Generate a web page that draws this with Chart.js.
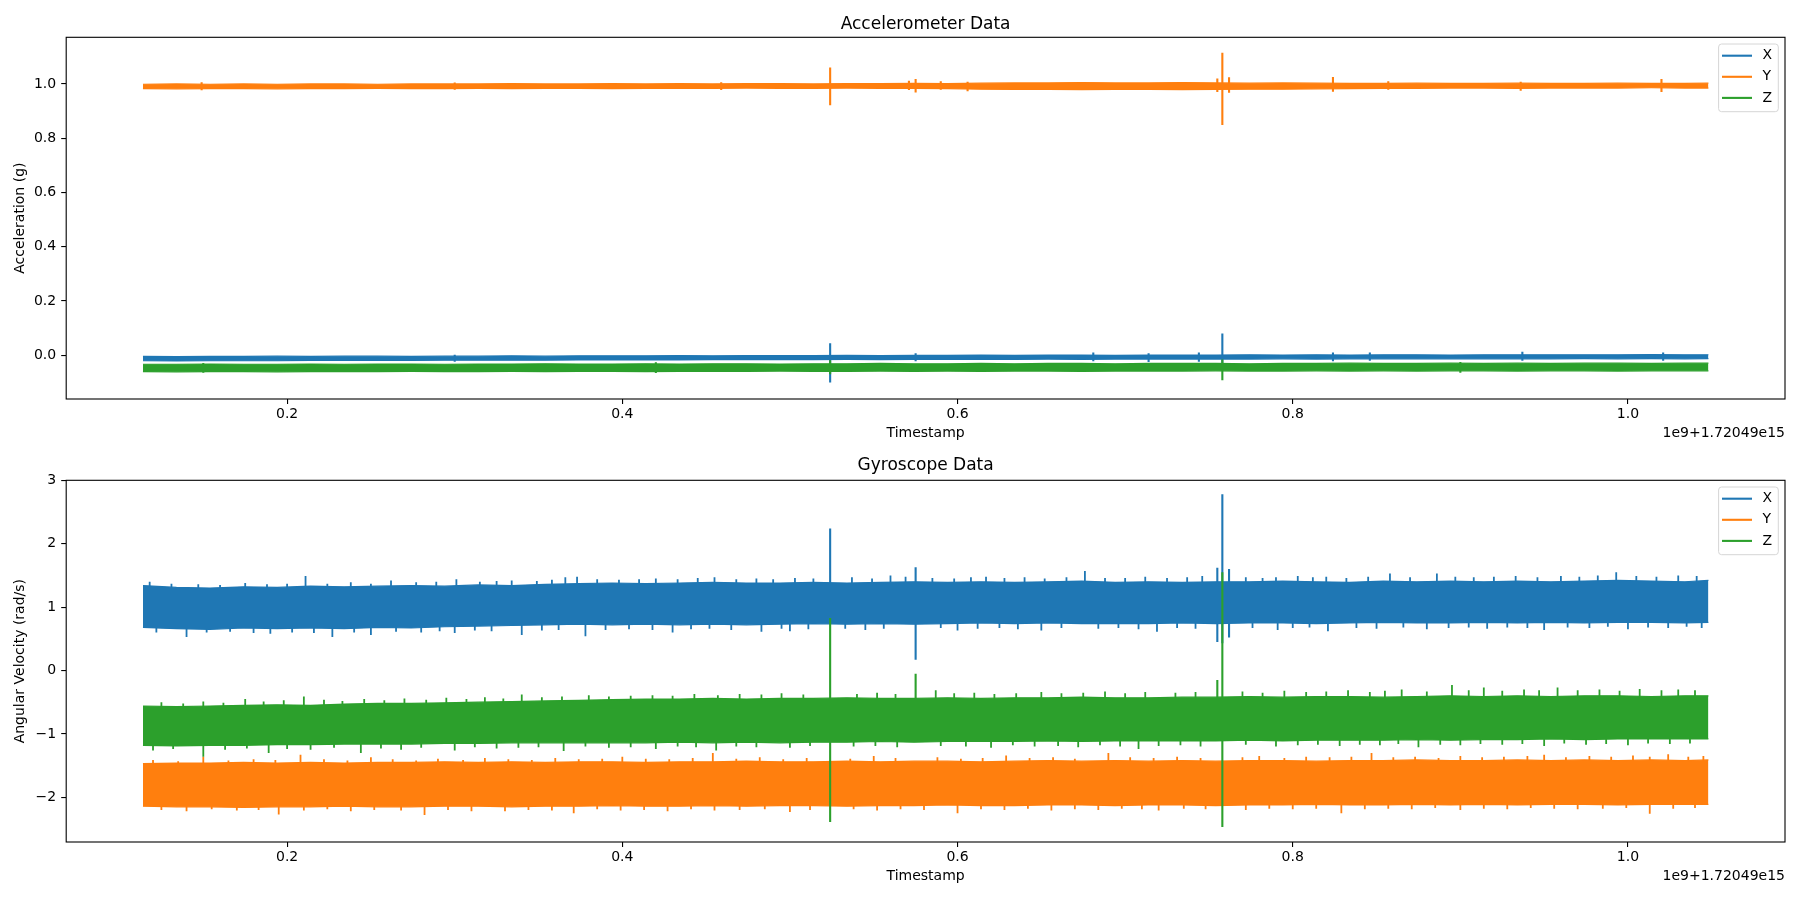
<!DOCTYPE html>
<html>
<head>
<meta charset="utf-8">
<script src="https://cdn.jsdelivr.net/npm/chart.js@4.4.1/dist/chart.umd.min.js"></script>
<style>
html,body{margin:0;padding:0;background:#fff;}
#wrap{position:relative;width:1800px;height:900px;background:#fff;}
.box{position:absolute;left:0;width:1800px;height:450px;}
</style>
</head>
<body>
<div id="wrap">
  <div class="box" style="top:0"><canvas id="c1"></canvas></div>
  <div class="box" style="top:450px"><canvas id="c2"></canvas></div>
</div>
<script>
// ---------------- DATA (timestamps in units of 1e9, offset 1.72049e15) ----------------
const xGrid = [0.114,0.134,0.154,0.174,0.194,0.214,0.234,0.254,0.274,0.294,
               0.314,0.334,0.354,0.374,0.394,0.414,0.434,0.454,0.474,0.494,
               0.514,0.534,0.554,0.574,0.594,0.614,0.634,0.654,0.674,0.694,
               0.714,0.734,0.754,0.774,0.794,0.814,0.834,0.854,0.874,0.894,
               0.914,0.934,0.954,0.974,0.994,1.014,1.034,1.048];

const seriesLabels = ['X','Y','Z'];
const seriesColors = ['#1f77b4','#ff7f0e','#2ca02c'];

const xTicks = [0.2,0.4,0.6,0.8,1.0];
const xTickLabels = ['0.2','0.4','0.6','0.8','1.0'];
const offsetText = '1e9+1.72049e15';

// ===== Accelerometer: band envelopes (upper / lower) =====
const accXUpper = [-0.004,-0.005,-0.004,-0.004,-0.003,-0.004,-0.003,-0.003,-0.004,-0.003,-0.003,-0.002,-0.003,-0.002,-0.002,-0.002,-0.001,-0.002,-0.001,-0.001,-0.001,0.000,-0.001,0.000,0.000,0.001,0.000,0.001,0.001,0.000,0.001,0.001,0.001,0.002,0.001,0.002,0.001,0.002,0.002,0.001,0.002,0.002,0.002,0.002,0.002,0.003,0.002,0.002];
const accXLower = [-0.020,-0.021,-0.020,-0.020,-0.020,-0.019,-0.019,-0.019,-0.019,-0.018,-0.018,-0.018,-0.018,-0.017,-0.017,-0.017,-0.017,-0.016,-0.016,-0.016,-0.016,-0.015,-0.016,-0.015,-0.015,-0.015,-0.015,-0.014,-0.015,-0.014,-0.014,-0.014,-0.014,-0.014,-0.013,-0.014,-0.013,-0.013,-0.013,-0.013,-0.013,-0.013,-0.013,-0.012,-0.013,-0.012,-0.013,-0.012];
const accYUpper = [0.999,1.000,0.999,1.000,0.999,1.000,1.000,0.999,1.000,1.000,1.000,1.001,1.000,1.000,1.001,1.000,1.001,1.000,1.001,1.001,1.000,1.001,1.001,1.002,1.001,1.003,1.004,1.004,1.005,1.004,1.004,1.005,1.004,1.003,1.004,1.003,1.002,1.002,1.003,1.002,1.002,1.003,1.002,1.002,1.003,1.002,1.002,1.003];
const accYLower = [0.983,0.982,0.983,0.983,0.982,0.983,0.983,0.984,0.983,0.983,0.984,0.983,0.984,0.984,0.983,0.984,0.984,0.984,0.985,0.984,0.984,0.985,0.984,0.984,0.983,0.981,0.980,0.980,0.979,0.980,0.980,0.979,0.980,0.981,0.981,0.982,0.983,0.984,0.984,0.985,0.985,0.984,0.985,0.985,0.985,0.986,0.985,0.985];
const accZUpper = [-0.033,-0.033,-0.032,-0.033,-0.033,-0.032,-0.033,-0.032,-0.032,-0.033,-0.032,-0.032,-0.031,-0.032,-0.032,-0.031,-0.032,-0.031,-0.031,-0.032,-0.031,-0.031,-0.030,-0.031,-0.031,-0.030,-0.031,-0.030,-0.030,-0.031,-0.030,-0.030,-0.030,-0.031,-0.030,-0.030,-0.029,-0.030,-0.030,-0.029,-0.030,-0.029,-0.030,-0.029,-0.029,-0.030,-0.029,-0.029];
const accZLower = [-0.060,-0.061,-0.060,-0.060,-0.061,-0.060,-0.060,-0.060,-0.059,-0.060,-0.060,-0.059,-0.060,-0.059,-0.059,-0.060,-0.059,-0.059,-0.059,-0.058,-0.059,-0.059,-0.058,-0.059,-0.058,-0.059,-0.058,-0.058,-0.059,-0.058,-0.058,-0.058,-0.057,-0.058,-0.058,-0.057,-0.058,-0.057,-0.058,-0.057,-0.057,-0.058,-0.057,-0.057,-0.058,-0.057,-0.057,-0.057];

// Accelerometer spikes (timestamp, min, max)
const accXSpikeT  = [0.300,0.524,0.575,0.681,0.714,0.744,0.758,0.824,0.846,0.937,1.021];
const accXSpikeLo = [-0.024,-0.100,-0.022,-0.022,-0.025,-0.024,-0.040,-0.022,-0.020,-0.020,-0.020];
const accXSpikeHi = [0.002,0.044,0.008,0.010,0.008,0.010,0.080,0.010,0.010,0.013,0.010];
const accYSpikeT  = [0.149,0.300,0.459,0.524,0.571,0.575,0.590,0.606,0.755,0.758,0.762,0.824,0.857,0.936,1.020];
const accYSpikeLo = [0.977,0.979,0.978,0.922,0.978,0.969,0.979,0.973,0.970,0.849,0.968,0.971,0.979,0.975,0.970];
const accYSpikeHi = [1.006,1.005,1.006,1.061,1.012,1.018,1.010,1.008,1.020,1.115,1.025,1.026,1.010,1.008,1.018];
const accZSpikeT  = [0.150,0.420,0.524,0.758,0.900];
const accZSpikeLo = [-0.064,-0.065,-0.070,-0.092,-0.064];
const accZSpikeHi = [-0.028,-0.026,-0.018,-0.015,-0.025];

// ===== Gyroscope: band envelopes =====
const gyrXUpper = [1.34,1.31,1.30,1.32,1.31,1.33,1.32,1.33,1.34,1.33,1.35,1.34,1.36,1.37,1.38,1.37,1.38,1.39,1.38,1.38,1.39,1.38,1.39,1.40,1.39,1.40,1.39,1.40,1.41,1.39,1.40,1.39,1.40,1.40,1.41,1.40,1.39,1.41,1.40,1.41,1.40,1.41,1.40,1.41,1.42,1.41,1.40,1.42];
const gyrXLower = [0.68,0.66,0.65,0.67,0.66,0.67,0.66,0.68,0.67,0.69,0.70,0.71,0.72,0.73,0.72,0.73,0.72,0.73,0.72,0.73,0.74,0.73,0.74,0.73,0.74,0.75,0.74,0.75,0.74,0.74,0.74,0.75,0.74,0.75,0.75,0.74,0.75,0.76,0.75,0.75,0.76,0.75,0.76,0.75,0.76,0.76,0.75,0.76];
const gyrYUpper = [-1.47,-1.46,-1.46,-1.45,-1.46,-1.45,-1.46,-1.45,-1.45,-1.44,-1.45,-1.44,-1.45,-1.44,-1.44,-1.45,-1.44,-1.44,-1.43,-1.44,-1.44,-1.43,-1.44,-1.43,-1.43,-1.44,-1.43,-1.42,-1.43,-1.42,-1.43,-1.42,-1.43,-1.42,-1.42,-1.43,-1.42,-1.42,-1.41,-1.42,-1.42,-1.41,-1.42,-1.41,-1.42,-1.41,-1.42,-1.41];
const gyrYLower = [-2.14,-2.15,-2.15,-2.16,-2.15,-2.15,-2.14,-2.15,-2.15,-2.14,-2.14,-2.15,-2.14,-2.14,-2.13,-2.14,-2.14,-2.13,-2.14,-2.13,-2.13,-2.14,-2.13,-2.13,-2.12,-2.13,-2.13,-2.12,-2.12,-2.13,-2.12,-2.12,-2.13,-2.12,-2.12,-2.11,-2.12,-2.12,-2.11,-2.12,-2.11,-2.12,-2.11,-2.11,-2.12,-2.11,-2.11,-2.11];
const gyrZUpper = [-0.56,-0.57,-0.56,-0.55,-0.54,-0.55,-0.53,-0.52,-0.52,-0.51,-0.50,-0.49,-0.48,-0.47,-0.46,-0.45,-0.45,-0.44,-0.45,-0.44,-0.44,-0.43,-0.44,-0.44,-0.43,-0.44,-0.43,-0.43,-0.42,-0.43,-0.43,-0.42,-0.42,-0.41,-0.42,-0.41,-0.41,-0.42,-0.41,-0.40,-0.41,-0.40,-0.41,-0.40,-0.40,-0.41,-0.40,-0.40];
const gyrZLower = [-1.18,-1.19,-1.18,-1.18,-1.17,-1.17,-1.16,-1.16,-1.16,-1.15,-1.15,-1.14,-1.14,-1.14,-1.14,-1.14,-1.13,-1.14,-1.13,-1.14,-1.13,-1.13,-1.12,-1.13,-1.12,-1.12,-1.12,-1.11,-1.12,-1.11,-1.11,-1.11,-1.11,-1.10,-1.11,-1.10,-1.10,-1.10,-1.09,-1.10,-1.09,-1.09,-1.08,-1.09,-1.08,-1.08,-1.08,-1.08];

// Gyroscope large spikes (timestamp, min, max)
const gyrXSpikeT  = [0.524,0.575,0.755,0.758,0.762];
const gyrXSpikeLo = [0.90,0.17,0.45,0.43,0.52];
const gyrXSpikeHi = [2.24,1.63,1.62,2.78,1.60];
const gyrYSpikeT  = [];
const gyrYSpikeLo = [];
const gyrYSpikeHi = [];
const gyrZSpikeT  = [0.524,0.575,0.755,0.758];
const gyrZSpikeLo = [-2.39,-0.80,-0.50,-2.47];
const gyrZSpikeHi = [0.83,-0.05,-0.15,1.55];

// Gyroscope noise peaks sticking out of the bands (timestamp, peak value)
const gyrXTopPeakT = [0.118,0.131,0.147,0.160,0.175,0.188,0.200,0.211,0.224,0.238,0.250,0.262,0.277,0.289,0.301,0.315,0.325,0.334,0.349,0.358,0.366,0.373,0.385,0.398,0.410,0.420,0.433,0.445,0.455,0.468,0.480,0.490,0.503,0.514,0.537,0.549,0.560,0.569,0.585,0.598,0.608,0.617,0.628,0.640,0.652,0.665,0.676,0.688,0.700,0.712,0.725,0.737,0.746,0.772,0.782,0.790,0.803,0.812,0.820,0.832,0.845,0.858,0.870,0.886,0.897,0.908,0.920,0.933,0.946,0.960,0.971,0.982,0.993,1.005,1.017,1.030,1.041];
const gyrXTopPeak  = [1.40,1.37,1.36,1.35,1.38,1.36,1.37,1.49,1.37,1.39,1.37,1.42,1.39,1.40,1.44,1.40,1.41,1.42,1.41,1.43,1.47,1.48,1.44,1.43,1.44,1.45,1.44,1.46,1.47,1.44,1.45,1.44,1.46,1.45,1.47,1.45,1.50,1.48,1.46,1.45,1.47,1.48,1.46,1.47,1.45,1.47,1.57,1.46,1.46,1.48,1.46,1.47,1.49,1.47,1.46,1.47,1.49,1.47,1.48,1.46,1.48,1.53,1.47,1.53,1.48,1.47,1.48,1.49,1.47,1.49,1.48,1.50,1.55,1.49,1.48,1.50,1.49];
const gyrXBotPeakT = [0.122,0.140,0.152,0.166,0.180,0.190,0.203,0.216,0.227,0.240,0.250,0.265,0.280,0.291,0.300,0.312,0.322,0.340,0.352,0.362,0.378,0.390,0.404,0.418,0.430,0.441,0.452,0.465,0.483,0.495,0.500,0.511,0.533,0.545,0.556,0.590,0.600,0.612,0.625,0.636,0.650,0.662,0.684,0.696,0.708,0.719,0.731,0.742,0.776,0.791,0.800,0.810,0.821,0.838,0.850,0.866,0.880,0.893,0.905,0.916,0.928,0.940,0.950,0.964,0.977,0.988,1.000,1.012,1.024,1.035,1.044];
const gyrXBotPeak  = [0.60,0.53,0.60,0.61,0.59,0.58,0.60,0.59,0.53,0.60,0.56,0.61,0.60,0.62,0.59,0.63,0.62,0.56,0.63,0.64,0.54,0.64,0.65,0.64,0.60,0.65,0.66,0.64,0.61,0.66,0.62,0.65,0.66,0.64,0.66,0.67,0.63,0.66,0.67,0.65,0.63,0.67,0.66,0.67,0.65,0.61,0.67,0.66,0.67,0.64,0.67,0.68,0.62,0.67,0.66,0.68,0.65,0.67,0.68,0.66,0.68,0.67,0.64,0.68,0.67,0.69,0.65,0.68,0.67,0.69,0.67];
const gyrYTopPeakT = [0.120,0.135,0.150,0.165,0.180,0.193,0.208,0.222,0.236,0.250,0.263,0.277,0.290,0.305,0.318,0.332,0.346,0.360,0.374,0.388,0.400,0.414,0.428,0.442,0.454,0.468,0.482,0.496,0.510,0.536,0.550,0.563,0.588,0.602,0.615,0.629,0.643,0.657,0.670,0.690,0.703,0.717,0.731,0.745,0.770,0.780,0.795,0.808,0.822,0.835,0.847,0.860,0.873,0.887,0.900,0.913,0.926,0.940,0.950,0.963,0.977,0.990,1.003,1.013,1.024,1.036,1.045];
const gyrYTopPeak  = [-1.41,-1.43,-1.36,-1.42,-1.40,-1.41,-1.33,-1.40,-1.42,-1.37,-1.40,-1.42,-1.39,-1.41,-1.38,-1.40,-1.41,-1.38,-1.40,-1.39,-1.36,-1.39,-1.40,-1.38,-1.30,-1.39,-1.37,-1.40,-1.38,-1.39,-1.35,-1.38,-1.37,-1.39,-1.38,-1.34,-1.38,-1.37,-1.39,-1.30,-1.37,-1.38,-1.36,-1.38,-1.37,-1.35,-1.38,-1.36,-1.37,-1.36,-1.30,-1.37,-1.36,-1.38,-1.35,-1.37,-1.36,-1.35,-1.33,-1.37,-1.35,-1.36,-1.34,-1.36,-1.32,-1.36,-1.35];
const gyrYBotPeakT = [0.125,0.140,0.155,0.170,0.183,0.195,0.210,0.224,0.238,0.252,0.268,0.282,0.296,0.310,0.330,0.344,0.358,0.371,0.385,0.399,0.413,0.427,0.441,0.455,0.470,0.485,0.500,0.512,0.538,0.552,0.566,0.580,0.600,0.614,0.628,0.642,0.656,0.670,0.684,0.698,0.710,0.720,0.735,0.748,0.772,0.786,0.800,0.814,0.829,0.843,0.857,0.871,0.885,0.900,0.914,0.928,0.942,0.956,0.970,0.985,0.999,1.013,1.027,1.040];
const gyrYBotPeak  = [-2.20,-2.22,-2.19,-2.21,-2.20,-2.27,-2.21,-2.19,-2.22,-2.20,-2.21,-2.28,-2.20,-2.22,-2.22,-2.20,-2.21,-2.25,-2.19,-2.21,-2.20,-2.22,-2.19,-2.21,-2.20,-2.19,-2.23,-2.20,-2.19,-2.21,-2.19,-2.20,-2.25,-2.19,-2.20,-2.18,-2.21,-2.19,-2.20,-2.18,-2.19,-2.21,-2.18,-2.19,-2.20,-2.18,-2.19,-2.18,-2.25,-2.19,-2.18,-2.19,-2.17,-2.20,-2.18,-2.19,-2.17,-2.18,-2.19,-2.18,-2.17,-2.26,-2.18,-2.17];
const gyrZTopPeakT = [0.125,0.138,0.150,0.162,0.175,0.186,0.198,0.210,0.222,0.233,0.246,0.258,0.270,0.283,0.295,0.307,0.318,0.329,0.340,0.352,0.364,0.380,0.392,0.405,0.418,0.430,0.443,0.457,0.470,0.483,0.495,0.508,0.540,0.552,0.563,0.587,0.598,0.610,0.622,0.635,0.650,0.662,0.675,0.688,0.700,0.712,0.730,0.742,0.770,0.782,0.795,0.808,0.820,0.833,0.846,0.855,0.865,0.880,0.895,0.905,0.914,0.925,0.938,0.947,0.958,0.970,0.983,0.995,1.007,1.020,1.030,1.040];
const gyrZTopPeak  = [-0.50,-0.52,-0.49,-0.51,-0.45,-0.49,-0.47,-0.41,-0.46,-0.48,-0.45,-0.47,-0.44,-0.46,-0.43,-0.45,-0.42,-0.44,-0.38,-0.42,-0.41,-0.39,-0.41,-0.40,-0.39,-0.40,-0.37,-0.39,-0.37,-0.38,-0.36,-0.38,-0.37,-0.35,-0.37,-0.31,-0.36,-0.35,-0.37,-0.36,-0.34,-0.36,-0.35,-0.33,-0.36,-0.34,-0.35,-0.34,-0.33,-0.35,-0.32,-0.34,-0.33,-0.31,-0.34,-0.32,-0.30,-0.33,-0.23,-0.31,-0.27,-0.32,-0.30,-0.31,-0.27,-0.31,-0.30,-0.32,-0.29,-0.31,-0.30,-0.31];
const gyrZBotPeakT = [0.120,0.132,0.150,0.163,0.176,0.189,0.200,0.214,0.228,0.244,0.256,0.268,0.280,0.300,0.312,0.325,0.338,0.350,0.365,0.378,0.392,0.405,0.420,0.433,0.444,0.456,0.468,0.480,0.500,0.512,0.538,0.551,0.564,0.590,0.605,0.620,0.633,0.646,0.660,0.672,0.685,0.697,0.708,0.720,0.733,0.745,0.772,0.790,0.803,0.815,0.828,0.840,0.852,0.863,0.875,0.888,0.900,0.912,0.925,0.937,0.950,0.962,0.975,0.987,1.000,1.012,1.025,1.037];
const gyrZBotPeak  = [-1.26,-1.24,-1.36,-1.25,-1.23,-1.30,-1.24,-1.25,-1.22,-1.30,-1.23,-1.25,-1.22,-1.26,-1.21,-1.23,-1.22,-1.21,-1.27,-1.20,-1.22,-1.21,-1.24,-1.20,-1.21,-1.26,-1.20,-1.21,-1.22,-1.19,-1.20,-1.19,-1.21,-1.19,-1.20,-1.22,-1.18,-1.20,-1.19,-1.21,-1.18,-1.20,-1.24,-1.19,-1.18,-1.20,-1.17,-1.20,-1.18,-1.17,-1.19,-1.17,-1.18,-1.16,-1.21,-1.17,-1.18,-1.16,-1.17,-1.16,-1.19,-1.15,-1.17,-1.16,-1.18,-1.15,-1.16,-1.15];

const accYTicks = [0.0,0.2,0.4,0.6,0.8,1.0];
const accYTickLabels = ['0.0','0.2','0.4','0.6','0.8','1.0'];
const gyrYTicks = [-2,-1,0,1,2,3];
const gyrYTickLabels = ['\u22122','\u22121','0','1','2','3'];

// ---------------- CHART BUILDING ----------------
Chart.defaults.font.family = "'DejaVu Sans', sans-serif";
Chart.defaults.color = '#000';

// s = {upper, lower, spT, spLo, spHi, topT, top, botT, bot}, depth = how far a peak's stroke reaches back into the band
function seriesDatasets(idx, s, depth) {
  const color = seriesColors[idx];
  const order = 3 - idx; // Z drawn on top, as in the original
  const up = xGrid.map((t, i) => ({x: t, y: s.upper[i]}));
  const lo = xGrid.map((t, i) => ({x: t, y: s.lower[i]}));
  const sp = [];
  for (let i = 0; i < s.spT.length; i++) {
    sp.push({x: s.spT[i], y: s.spLo[i]}, {x: s.spT[i], y: s.spHi[i]}, {x: s.spT[i], y: null});
  }
  const pk = [];
  (s.topT || []).forEach((t, i) => { pk.push({x: t, y: s.top[i] - depth}, {x: t, y: s.top[i]}, {x: t, y: null}); });
  (s.botT || []).forEach((t, i) => { pk.push({x: t, y: s.bot[i]}, {x: t, y: s.bot[i] + depth}, {x: t, y: null}); });
  const sets = [
    {label: seriesLabels[idx], isMain: true, data: up, borderColor: color, backgroundColor: color,
     borderWidth: 1.2, pointRadius: 0, fill: '+1', order: order},
    {label: seriesLabels[idx] + ' (low)', data: lo, borderColor: color, backgroundColor: color,
     borderWidth: 1.2, pointRadius: 0, fill: false, order: order},
    {label: seriesLabels[idx] + ' (spikes)', data: sp, borderColor: color, backgroundColor: color,
     borderWidth: 2.1, pointRadius: 0, fill: false, spanGaps: false, order: order}
  ];
  if (pk.length) {
    sets.push({label: seriesLabels[idx] + ' (peaks)', data: pk, borderColor: color, backgroundColor: color,
     borderWidth: 1.8, pointRadius: 0, fill: false, spanGaps: false, order: order});
  }
  return sets;
}

const framePlugin = {
  id: 'mplFrame',
  afterDraw(chart, args, opts) {
    const ctx = chart.ctx;
    const a = chart.chartArea;
    ctx.save();
    ctx.strokeStyle = '#000';
    ctx.lineWidth = 1.1;
    ctx.strokeRect(a.left, a.top, a.right - a.left, a.bottom - a.top);
    ctx.font = '14px "DejaVu Sans"';
    ctx.fillStyle = '#000';
    ctx.textAlign = 'right';
    ctx.textBaseline = 'middle';
    ctx.fillText(opts.offsetText, a.right, a.bottom + 34.7);
    const items = chart.data.datasets.filter(d => d.isMain);
    const tw = Math.max(...items.map(d => ctx.measureText(d.label).width));
    const w = 5.6 + 27.8 + 11.1 + tw + 5.6;
    const h = 67.7;
    const right = a.right - 6.7, top = a.top + 6.7, left = right - w;
    const r = 3;
    ctx.beginPath();
    ctx.moveTo(left + r, top);
    ctx.lineTo(right - r, top);
    ctx.quadraticCurveTo(right, top, right, top + r);
    ctx.lineTo(right, top + h - r);
    ctx.quadraticCurveTo(right, top + h, right - r, top + h);
    ctx.lineTo(left + r, top + h);
    ctx.quadraticCurveTo(left, top + h, left, top + h - r);
    ctx.lineTo(left, top + r);
    ctx.quadraticCurveTo(left, top, left + r, top);
    ctx.closePath();
    ctx.fillStyle = 'rgba(255,255,255,0.8)';
    ctx.fill();
    ctx.strokeStyle = '#d6d6d6';
    ctx.lineWidth = 1;
    ctx.stroke();
    items.forEach((d, i) => {
      const y = top + 11.7 + i * 21.1;
      ctx.strokeStyle = d.borderColor;
      ctx.lineWidth = 2.1;
      ctx.beginPath();
      ctx.moveTo(left + 3.4, y);
      ctx.lineTo(left + 33.4, y);
      ctx.stroke();
      ctx.fillStyle = '#000';
      ctx.textAlign = 'left';
      ctx.textBaseline = 'middle';
      ctx.fillText(d.label, left + 44, y);
    });
    ctx.restore();
  }
};

function makeChart(id, cfg) {
  return new Chart(document.getElementById(id), {
    type: 'line',
    data: {datasets: cfg.datasets},
    plugins: [framePlugin],
    options: {
      responsive: true,
      maintainAspectRatio: false,
      animation: false,
      events: [],
      layout: {padding: {left: 0, right: 15, top: 0, bottom: 0}},
      plugins: {
        legend: {display: false},
        tooltip: {enabled: false},
        title: {display: true, text: cfg.title, fullSize: false, color: '#000',
                font: {size: 17, weight: 'normal'}, padding: cfg.titlePad},
        mplFrame: {offsetText: offsetText}
      },
      scales: {
        x: {
          type: 'linear', min: 0.0682, max: 1.0937,
          afterBuildTicks: s => { s.ticks = xTicks.map(v => ({value: v})); },
          afterFit: s => { s.height = cfg.xAxisHeight; },
          ticks: {callback: (v, i) => xTickLabels[i], font: {size: 14}, color: '#000',
                  padding: 2, maxRotation: 0, autoSkip: false},
          grid: {display: true, drawOnChartArea: false, drawTicks: true, tickLength: 5,
                 color: '#000', lineWidth: 1.1},
          border: {display: false},
          title: {display: true, text: 'Timestamp', color: '#000', font: {size: 14},
                  padding: {top: 0, bottom: cfg.xTitlePadBottom}}
        },
        y: {
          type: 'linear', min: cfg.yMin, max: cfg.yMax,
          afterBuildTicks: s => { s.ticks = cfg.yTicks.map(v => ({value: v})); },
          afterFit: s => { s.width = 66.2; },
          ticks: {callback: (v, i) => cfg.yTickLabels[i], font: {size: 14}, color: '#000',
                  padding: 5, autoSkip: false},
          grid: {display: true, drawOnChartArea: false, drawTicks: true, tickLength: 5,
                 color: '#000', lineWidth: 1.1},
          border: {display: false},
          title: {display: true, text: cfg.yLabel, color: '#000', font: {size: 14},
                  padding: {top: 12, bottom: 0}}
        }
      }
    }
  });
}

makeChart('c1', {
  title: 'Accelerometer Data',
  titlePad: {top: 14.8, bottom: 2.1},
  yLabel: 'Acceleration (g)',
  yMin: -0.161, yMax: 1.172,
  yTicks: accYTicks, yTickLabels: accYTickLabels,
  xAxisHeight: 51, xTitlePadBottom: 8.6,
  datasets: [
    ...seriesDatasets(0, {upper: accXUpper, lower: accXLower, spT: accXSpikeT, spLo: accXSpikeLo, spHi: accXSpikeHi}, 0),
    ...seriesDatasets(1, {upper: accYUpper, lower: accYLower, spT: accYSpikeT, spLo: accYSpikeLo, spHi: accYSpikeHi}, 0),
    ...seriesDatasets(2, {upper: accZUpper, lower: accZLower, spT: accZSpikeT, spLo: accZSpikeLo, spHi: accZSpikeHi}, 0)
  ]
});

makeChart('c2', {
  title: 'Gyroscope Data',
  titlePad: {top: 5.8, bottom: 4.1},
  yLabel: 'Angular Velocity (rad/s)',
  yMin: -2.705, yMax: 3.0,
  yTicks: gyrYTicks, yTickLabels: gyrYTickLabels,
  xAxisHeight: 58, xTitlePadBottom: 15.6,
  datasets: [
    ...seriesDatasets(0, {upper: gyrXUpper, lower: gyrXLower, spT: gyrXSpikeT, spLo: gyrXSpikeLo, spHi: gyrXSpikeHi,
                          topT: gyrXTopPeakT, top: gyrXTopPeak, botT: gyrXBotPeakT, bot: gyrXBotPeak}, 0.25),
    ...seriesDatasets(1, {upper: gyrYUpper, lower: gyrYLower, spT: gyrYSpikeT, spLo: gyrYSpikeLo, spHi: gyrYSpikeHi,
                          topT: gyrYTopPeakT, top: gyrYTopPeak, botT: gyrYBotPeakT, bot: gyrYBotPeak}, 0.25),
    ...seriesDatasets(2, {upper: gyrZUpper, lower: gyrZLower, spT: gyrZSpikeT, spLo: gyrZSpikeLo, spHi: gyrZSpikeHi,
                          topT: gyrZTopPeakT, top: gyrZTopPeak, botT: gyrZBotPeakT, bot: gyrZBotPeak}, 0.25)
  ]
});
</script>
</body>
</html>
